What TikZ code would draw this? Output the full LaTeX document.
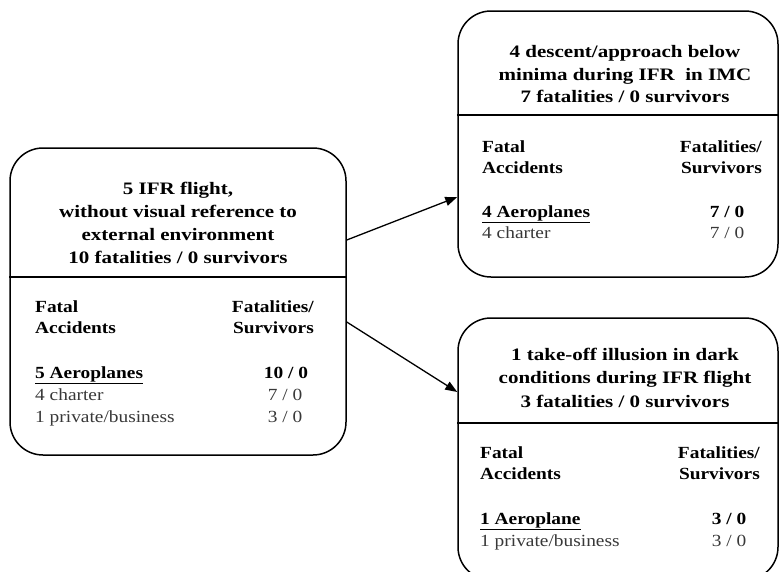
\documentclass[tikz,border=0pt]{standalone}
\usepackage{fontspec}
\setmainfont{Liberation Serif}[FakeStretch=1.14]
\newfontfamily\ttlfont{Liberation Serif}[FakeStretch=1.20]
\usetikzlibrary{arrows.meta}
\begin{document}
\begin{tikzpicture}[x=1pt,y=-1pt,
  box/.style={draw, line width=1.5pt, rounded corners=33pt, rectangle, inner sep=0pt},
  divline/.style={line width=1.5pt},
  arr/.style={line width=1.3pt, -{Triangle[length=12pt,width=9pt]}},
  ttl/.style={font=\ttlfont\fontsize{17.5}{20}\selectfont\bfseries, anchor=base, inner sep=0pt},
  hdl/.style={font=\fontsize{17}{20}\selectfont\bfseries, anchor=base west, inner sep=0pt},
  hdr/.style={font=\fontsize{17}{20}\selectfont\bfseries, anchor=base east, inner sep=0pt},
  numb/.style={font=\fontsize{17}{20}\selectfont\bfseries, anchor=base, inner sep=0pt},
  rowl/.style={font=\fontsize{17}{20}\selectfont, text=black!78, anchor=base west, inner sep=0pt},
  numr/.style={font=\fontsize{17}{20}\selectfont, text=black!78, anchor=base, inner sep=0pt}]
\useasboundingbox (0,0) rectangle (780,571);
\begin{scope}
\clip (0,0) rectangle (780,571);
% boxes
\node[box, minimum width=336pt, minimum height=307pt] (bL) at (178,301.5) {};
\node[box, minimum width=320pt, minimum height=266pt] (bT) at (618,144) {};
\node[box, minimum width=320pt, minimum height=262pt] (bB) at (618,449) {};
\draw[divline] (bL.west |- 0,277) -- (bL.east |- 0,277);
\draw[divline] (bT.west |- 0,115) -- (bT.east |- 0,115);
\draw[divline] (bB.west |- 0,423) -- (bB.east |- 0,423);
% arrows
\draw[arr] (bL.east |- 0,240) -- (bT.west |- 0,197);
\draw[arr] (bL.east |- 0,322) -- (bB.west |- 0,392);
% left box
\node[ttl] (tL1) at (178,194) {5 IFR flight,};
\node[ttl] (tL2) at (178,217) {without visual reference to};
\node[ttl] (tL3) at (178,240) {external environment};
\node[ttl] (tL4) at (178,263) {10 fatalities / 0 survivors};
\node[hdl] (hL1) at (35,312) {Fatal};
\node[hdl] (hL2) at (35,333) {Accidents};
\node[hdr] (hL3) at (314,312) {Fatalities/};
\node[hdr] (hL4) at (314,333) {Survivors};
\node[hdl] (rL1) at (35,378) {\underline{5 Aeroplanes}};
\node[numb] (nL1) at (286,378) {10 / 0};
\node[rowl] (rL2) at (35,400) {4 charter};
\node[numr] (nL2) at (285,400) {7 / 0};
\node[rowl] (rL3) at (35,422) {1 private/business};
\node[numr] (nL3) at (285,422) {3 / 0};
% top right box
\node[ttl] (tT1) at (625,57) {4 descent/approach below};
\node[ttl] (tT2) at (625,80) {minima during IFR~ in IMC};
\node[ttl] (tT3) at (625,102) {7 fatalities / 0 survivors};
\node[hdl] (hT1) at (482,152) {Fatal};
\node[hdl] (hT2) at (482,173) {Accidents};
\node[hdr] (hT3) at (762,152) {Fatalities/};
\node[hdr] (hT4) at (762,173) {Survivors};
\node[hdl] (rT1) at (482,217) {\underline{4 Aeroplanes}};
\node[numb] (nT1) at (727,217) {7 / 0};
\node[rowl] (rT2) at (482,238) {4 charter};
\node[numr] (nT2) at (727,238) {7 / 0};
% bottom right box
\node[ttl] (tB1) at (625,360) {1 take-off illusion in dark};
\node[ttl] (tB2) at (625,383) {conditions during IFR flight};
\node[ttl] (tB3) at (625,407) {3 fatalities / 0 survivors};
\node[hdl] (hB1) at (480,458) {Fatal};
\node[hdl] (hB2) at (480,479) {Accidents};
\node[hdr] (hB3) at (760,458) {Fatalities/};
\node[hdr] (hB4) at (760,479) {Survivors};
\node[hdl] (rB1) at (480,524) {\underline{1 Aeroplane}};
\node[numb] (nB1) at (729,524) {3 / 0};
\node[rowl] (rB2) at (480,546) {1 private/business};
\node[numr] (nB2) at (729,546) {3 / 0};
\end{scope}
\end{tikzpicture}
\end{document}
